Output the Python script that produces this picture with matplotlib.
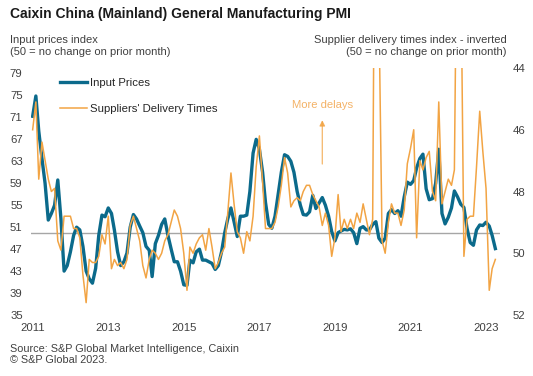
## Caixin China (Mainland) General Manufacturing PMI - input prices vs supplier delivery times

import numpy as np
import pandas as pd
import matplotlib
matplotlib.use('Agg')
import matplotlib.pyplot as plt

plt.rcParams['font.family'] = ['Liberation Sans', 'DejaVu Sans']

## DATA (monthly, Jan 2011 - Apr 2023)

dates = pd.date_range('2011-01-01', periods=148, freq='MS')

input_prices = [
    71.2, 74.9, 68.5, 63.5, 59.0, 52.3, 53.5, 55.0, 59.6, 52.6, 43.0, 44.0,  # 2011
    46.5, 49.5, 51.0, 50.5, 47.5, 43.0, 41.6, 40.8, 43.5, 49.5, 53.2, 52.9,  # 2012
    54.5, 53.5, 50.5, 46.5, 44.0, 44.7, 46.3, 51.0, 53.3, 52.5, 51.2, 50.0,  # 2013
    47.5, 46.8, 42.0, 48.0, 49.5, 51.5, 52.5, 49.5, 47.0, 44.7, 44.7, 43.0,  # 2014
    40.5, 40.4, 45.0, 44.5, 46.5, 47.0, 45.0, 45.0, 44.7, 44.4, 43.3, 44.0,  # 2015
    46.5, 50.0, 52.5, 54.5, 52.0, 49.3, 53.0, 53.0, 53.2, 57.5, 64.5, 67.0,  # 2016
    65.2, 61.0, 55.5, 51.5, 50.8, 53.0, 57.0, 61.0, 64.2, 63.9, 63.0, 61.0,  # 2017
    57.5, 55.0, 53.3, 53.2, 53.8, 56.8, 54.4, 55.4, 56.4, 55.0, 53.0, 50.2,  # 2018
    48.5, 50.0, 50.3, 50.6, 50.5, 50.7, 50.0, 48.0, 50.8, 51.1, 50.5, 50.5,  # 2019
    51.5, 52.0, 49.0, 48.2, 49.0, 53.5, 54.2, 53.5, 54.0, 53.0, 56.5, 59.2,  # 2020
    58.8, 59.5, 61.8, 63.5, 64.3, 58.0, 56.0, 56.2, 59.0, 65.2, 53.5, 51.6,  # 2021
    52.8, 54.5, 57.6, 56.5, 55.2, 54.6, 50.8, 48.2, 47.7, 50.5, 51.4, 51.3,  # 2022
    51.9, 51.2, 49.5, 47.1]  # 2023

delivery_times = [
    46.0, 45.1, 47.6, 46.4, 47.0, 47.6, 48.0, 47.9, 49.6, 49.9, 48.8, 48.8,  # 2011
    48.8, 49.2, 49.2, 49.5, 50.7, 51.6, 50.2, 50.3, 50.3, 50.1, 49.4, 49.7,  # 2012
    48.8, 50.5, 50.2, 50.4, 50.3, 50.5, 50.2, 49.1, 48.8, 49.2, 49.6, 50.4,  # 2013
    50.8, 50.2, 49.9, 50.0, 50.2, 50.0, 49.6, 49.4, 49.0, 48.6, 48.8, 49.2,  # 2014
    50.0, 51.2, 49.8, 50.0, 49.7, 49.5, 49.4, 49.9, 49.2, 49.8, 50.5, 50.3,  # 2015
    50.0, 49.8, 48.7, 47.4, 48.4, 49.3, 49.5, 50.0, 49.3, 49.6, 48.8, 47.2,  # 2016
    46.2, 47.7, 49.2, 49.2, 49.2, 49.0, 48.5, 47.8, 46.9, 47.4, 48.5, 48.3,  # 2017
    48.2, 48.3, 48.0, 47.8, 47.8, 48.1, 48.3, 48.5, 49.1, 48.7, 49.1, 50.1,  # 2018
    49.5, 48.1, 49.3, 48.9, 49.2, 48.9, 49.2, 48.7, 49.0, 48.4, 48.9, 49.4,  # 2019
    48.9, 32.0, 42.0, 49.6, 50.0, 49.0, 48.4, 48.7, 48.7, 49.1, 48.6, 47.1,  # 2020
    46.6, 46.0, 49.5, 47.0, 47.3, 46.9, 46.7, 48.0, 48.3, 45.1, 48.4, 48.0,  # 2021
    47.6, 47.8, 47.3, 37.0, 40.0, 50.1, 48.9, 48.8, 48.8, 47.2, 45.4, 46.7,  # 2022
    47.9, 51.2, 50.5, 50.2]  # 2023

left_ticks = list(range(35, 80, 4))
right_ticks = [44, 46, 48, 50, 52]
year_labels = [str(y) for y in range(2011, 2024, 2)]

blue = '#0B6A8B'
orange = '#F2A444'
text_col = '#404040'

fig = plt.figure(figsize=(5.33, 3.76), dpi=100)
ax = fig.add_axes([31 / 533, 1 - 315 / 376, 469 / 533, 247 / 376])
ax2 = ax.twinx()

ax.axhline(50, color='#A6A6A6', lw=1.0, zorder=1)
l1, = ax.plot(dates, input_prices, color=blue, lw=2.4, label='Input Prices', zorder=3)
l2, = ax2.plot(dates, delivery_times, color=orange, lw=1.1, label="Suppliers' Delivery Times")

ax.set_xlim(pd.Timestamp('2010-12-16'), pd.Timestamp('2023-05-16'))
ax.set_ylim(35, 80)
ax2.set_ylim(52, 44)
ax.set_yticks(left_ticks)
ax2.set_yticks(right_ticks)
ax.set_xticks(pd.to_datetime([y + '-01-01' for y in year_labels]))
ax.set_xticklabels(year_labels)

for a in (ax, ax2):
    for s in a.spines.values():
        s.set_visible(False)
    a.tick_params(length=0, labelsize=8.2, labelcolor=text_col)
ax.tick_params(axis='y', pad=6)
ax.tick_params(axis='x', pad=6)
ax2.tick_params(axis='y', pad=9)

leg = ax2.legend(handles=[l1, l2], loc='upper left', bbox_to_anchor=(55 / 533, 1 - 73 / 376),
                 bbox_transform=fig.transFigure, frameon=False, fontsize=8.2,
                 handlelength=2.4, handletextpad=0.25, labelspacing=1.45, borderaxespad=0)
for t in leg.get_texts():
    t.set_color('#262626')

# "More delays" annotation
note_x = pd.Timestamp('2018-09-01')
ax2.annotate('', xy=(note_x, 45.6), xytext=(note_x, 47.2),
             arrowprops=dict(arrowstyle='-|>', color=orange, lw=0.9, alpha=0.8, mutation_scale=8))
ax2.text(note_x, 45.2, 'More delays', color='#F4B266', fontsize=8.1, ha='center', va='center')

fig.text(10 / 533, 1 - 14 / 376, 'Caixin China (Mainland) General Manufacturing PMI',
         fontsize=10, fontweight='bold', color='#1a1a1a', va='center')
fig.text(10 / 533, 1 - 40 / 376, 'Input prices index', fontsize=8, color=text_col, va='center')
fig.text(10 / 533, 1 - 52 / 376, '(50 = no change on prior month)', fontsize=8,
         color=text_col, va='center')
fig.text(507 / 533, 1 - 40 / 376, 'Supplier delivery times index - inverted', fontsize=8,
         color=text_col, va='center', ha='right')
fig.text(507 / 533, 1 - 52 / 376, '(50 = no change on prior month)', fontsize=8,
         color=text_col, va='center', ha='right')
fig.text(10 / 533, 1 - 349 / 376, 'Source: S&P Global Market Intelligence, Caixin', fontsize=7.8,
         color=text_col, va='center')
fig.text(10 / 533, 1 - 360 / 376, '\u00a9 S&P Global 2023.', fontsize=7.8, color=text_col, va='center')

fig.savefig('out.png', dpi=100)
